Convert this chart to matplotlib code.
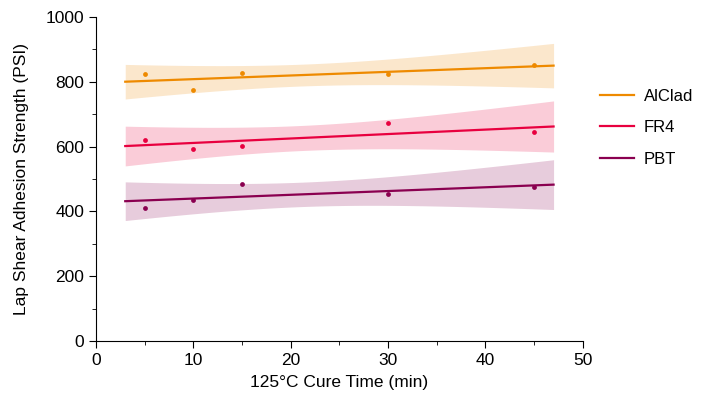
import numpy as np
import matplotlib
matplotlib.use('Agg')
import matplotlib.pyplot as plt
from matplotlib.ticker import MultipleLocator

plt.rcParams['font.family'] = ['Liberation Sans', 'DejaVu Sans']

# cure time (min) and measured strength (PSI)
cure_time = [5, 10, 15, 30, 45]
alclad = [823, 776, 827, 825, 852]
fr4 = [621, 592, 602, 672, 645]
pbt = [411, 436, 484, 455, 476]

series_names = ['AlClad', 'FR4', 'PBT']
series_values = [alclad, fr4, pbt]
colors = ['#EE8A00', '#E8003F', '#8A0050']

T_975_DF3 = 3.182  # t quantile for 95% CI, n-2 = 3

fig = plt.figure(figsize=(7.03, 4.0), dpi=100)
ax = fig.add_axes([0.1366, 0.1475, 0.6924, 0.81])

x = np.array(cure_time, dtype=float)
x_lo = x.min() - 0.05 * (x.max() - x.min())
x_hi = x.max() + 0.05 * (x.max() - x.min())
xs = np.linspace(x_lo, x_hi, 100)

for name, vals, c in zip(series_names, series_values, colors):
    y = np.array(vals, dtype=float)
    slope, icpt = np.polyfit(x, y, 1)
    fit = icpt + slope * xs
    resid = y - (icpt + slope * x)
    s = np.sqrt((resid ** 2).sum() / (len(x) - 2))
    sxx = ((x - x.mean()) ** 2).sum()
    se = s * np.sqrt(1 / len(x) + (xs - x.mean()) ** 2 / sxx)
    ax.fill_between(xs, fit - T_975_DF3 * se, fit + T_975_DF3 * se,
                    color=c, alpha=0.2, linewidth=0)
    ax.plot(xs, fit, color=c, lw=1.6, label=name)
    ax.scatter(x, y, color=c, s=12, zorder=3, linewidths=0)

ax.set_xlim(0, 50)
ax.set_ylim(0, 1000)
ax.xaxis.set_major_locator(MultipleLocator(10))
ax.xaxis.set_minor_locator(MultipleLocator(5))
ax.yaxis.set_major_locator(MultipleLocator(200))
ax.yaxis.set_minor_locator(MultipleLocator(100))
ax.tick_params(which='major', length=5, labelsize=12.5)
ax.tick_params(which='minor', length=3)
ax.spines['top'].set_visible(False)
ax.spines['right'].set_visible(False)

ax.set_xlabel('125°C Cure Time (min)', fontsize=12.5, labelpad=5)
ax.set_ylabel('Lap Shear Adhesion Strength (PSI)', fontsize=12.5, labelpad=12)

ax.legend(loc='center left', bbox_to_anchor=(1.036, 0.658), frameon=False,
          fontsize=12, handlelength=2.0, handletextpad=0.6,
          labelspacing=1.0, borderaxespad=0, borderpad=0)

fig.savefig('out.png', dpi=100)
